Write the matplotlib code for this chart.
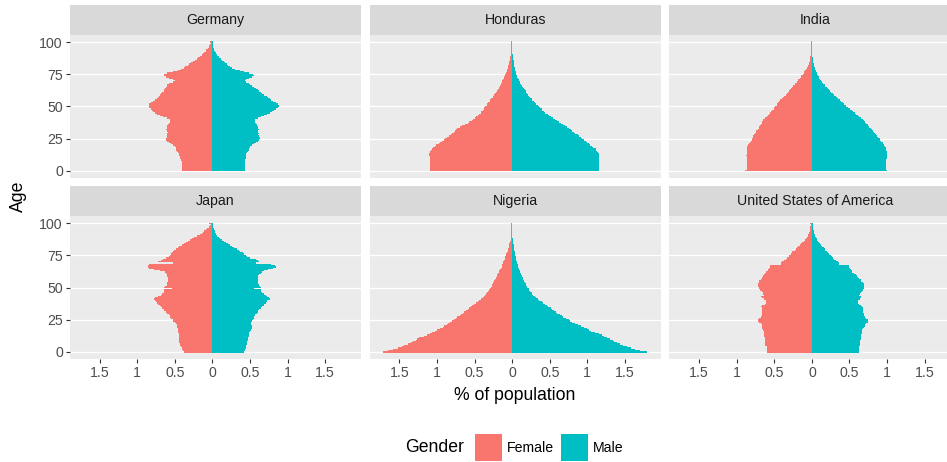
import numpy as np
import matplotlib
matplotlib.use("Agg")
import matplotlib.pyplot as plt
from matplotlib.patches import Rectangle

plt.rcParams["font.family"] = ["Liberation Sans", "DejaVu Sans"]

# ---- data: share of total population (%) by single year of age, 0..100+ ----
ages = np.arange(0, 101)
countries = ["Germany", "Honduras", "India", "Japan", "Nigeria",
             "United States of America"]

germany_female = [
    0.40, 0.40, 0.40, 0.40, 0.40, 0.40, 0.41, 0.41, 0.42, 0.42,
    0.43, 0.43, 0.44, 0.45, 0.46, 0.47, 0.48, 0.48, 0.49, 0.50,
    0.52, 0.55, 0.58, 0.60, 0.62, 0.62, 0.61, 0.60, 0.60, 0.61,
    0.59, 0.61, 0.62, 0.61, 0.60, 0.60, 0.59, 0.58, 0.57, 0.56,
    0.56, 0.60, 0.66, 0.70, 0.74, 0.77, 0.79, 0.81, 0.82, 0.84,
    0.85, 0.85, 0.84, 0.82, 0.79, 0.77, 0.74, 0.72, 0.71, 0.70,
    0.68, 0.67, 0.65, 0.64, 0.63, 0.62, 0.61, 0.60, 0.58, 0.52,
    0.50, 0.52, 0.58, 0.62, 0.64, 0.65, 0.60, 0.52, 0.46, 0.42,
    0.38, 0.36, 0.33, 0.31, 0.29, 0.26, 0.23, 0.21, 0.19, 0.16,
    0.14, 0.12, 0.11, 0.09, 0.08, 0.06, 0.05, 0.04, 0.03, 0.02,
    0.03]
germany_male = [
    0.43, 0.43, 0.43, 0.43, 0.43, 0.43, 0.43, 0.43, 0.43, 0.43,
    0.44, 0.44, 0.45, 0.45, 0.46, 0.47, 0.48, 0.49, 0.50, 0.50,
    0.52, 0.55, 0.58, 0.60, 0.62, 0.63, 0.63, 0.62, 0.61, 0.62,
    0.60, 0.61, 0.62, 0.61, 0.60, 0.59, 0.59, 0.58, 0.57, 0.56,
    0.57, 0.60, 0.64, 0.68, 0.72, 0.76, 0.79, 0.82, 0.85, 0.87,
    0.89, 0.89, 0.87, 0.84, 0.81, 0.78, 0.76, 0.74, 0.72, 0.69,
    0.66, 0.64, 0.62, 0.60, 0.58, 0.55, 0.52, 0.50, 0.48, 0.45,
    0.43, 0.44, 0.48, 0.52, 0.55, 0.54, 0.48, 0.42, 0.36, 0.30,
    0.26, 0.23, 0.21, 0.19, 0.17, 0.15, 0.13, 0.11, 0.09, 0.08,
    0.06, 0.05, 0.04, 0.03, 0.02, 0.02, 0.01, 0.01, 0.01, 0.005,
    0.005]

honduras_female = [
    1.10, 1.10, 1.10, 1.10, 1.10, 1.10, 1.10, 1.10, 1.10, 1.10,
    1.10, 1.10, 1.11, 1.11, 1.10, 1.09, 1.08, 1.07, 1.05, 1.03,
    1.01, 0.98, 0.96, 0.93, 0.91, 0.89, 0.87, 0.84, 0.82, 0.80,
    0.78, 0.76, 0.75, 0.74, 0.70, 0.67, 0.63, 0.59, 0.57, 0.54,
    0.52, 0.50, 0.48, 0.46, 0.44, 0.42, 0.41, 0.39, 0.38, 0.37,
    0.36, 0.34, 0.33, 0.32, 0.30, 0.29, 0.28, 0.26, 0.25, 0.24,
    0.23, 0.21, 0.20, 0.19, 0.18, 0.17, 0.16, 0.155, 0.15, 0.14,
    0.13, 0.12, 0.11, 0.105, 0.10, 0.09, 0.08, 0.075, 0.07, 0.065,
    0.06, 0.055, 0.05, 0.045, 0.04, 0.037, 0.034, 0.030, 0.027, 0.025,
    0.020, 0.015, 0.014, 0.014, 0.014, 0.014, 0.014, 0.014, 0.014, 0.014,
    0.014]
honduras_male = [
    1.16, 1.16, 1.16, 1.16, 1.16, 1.16, 1.16, 1.16, 1.16, 1.16,
    1.16, 1.16, 1.16, 1.15, 1.14, 1.13, 1.12, 1.11, 1.08, 1.06,
    1.04, 1.02, 1.00, 0.98, 0.96, 0.93, 0.91, 0.89, 0.87, 0.84,
    0.82, 0.80, 0.78, 0.75, 0.73, 0.70, 0.68, 0.65, 0.62, 0.60,
    0.57, 0.54, 0.51, 0.49, 0.47, 0.44, 0.42, 0.40, 0.39, 0.37,
    0.36, 0.34, 0.32, 0.30, 0.29, 0.27, 0.26, 0.24, 0.22, 0.21,
    0.20, 0.19, 0.18, 0.17, 0.16, 0.145, 0.13, 0.12, 0.11, 0.10,
    0.093, 0.085, 0.076, 0.070, 0.062, 0.055, 0.049, 0.045, 0.040, 0.035,
    0.031, 0.029, 0.027, 0.024, 0.022, 0.020, 0.018, 0.016, 0.014, 0.014,
    0.013, 0.003, 0.002, 0.002, 0.002, 0.001, 0.001, 0.001, 0.001, 0.001,
    0.001]

india_female = [
    0.89, 0.87, 0.87, 0.87, 0.87, 0.87, 0.87, 0.87, 0.87, 0.87,
    0.87, 0.87, 0.88, 0.87, 0.87, 0.87, 0.87, 0.87, 0.86, 0.86,
    0.85, 0.84, 0.82, 0.81, 0.80, 0.80, 0.79, 0.78, 0.77, 0.76,
    0.75, 0.74, 0.72, 0.71, 0.70, 0.69, 0.68, 0.67, 0.66, 0.65,
    0.65, 0.62, 0.60, 0.58, 0.57, 0.56, 0.54, 0.53, 0.51, 0.50,
    0.49, 0.47, 0.46, 0.45, 0.44, 0.42, 0.40, 0.39, 0.37, 0.35,
    0.33, 0.32, 0.30, 0.29, 0.28, 0.26, 0.25, 0.23, 0.22, 0.20,
    0.19, 0.18, 0.16, 0.15, 0.14, 0.12, 0.11, 0.10, 0.09, 0.08,
    0.067, 0.058, 0.049, 0.042, 0.036, 0.031, 0.027, 0.026, 0.024, 0.020,
    0.016, 0.014, 0.014, 0.014, 0.014, 0.014, 0.014, 0.014, 0.014, 0.014,
    0.014]
india_male = [
    1.00, 0.99, 0.99, 0.99, 0.99, 0.99, 0.99, 0.99, 0.99, 0.99,
    1.00, 1.00, 1.00, 1.00, 1.00, 0.995, 0.99, 0.99, 0.985, 0.97,
    0.96, 0.95, 0.94, 0.92, 0.91, 0.90, 0.88, 0.87, 0.85, 0.84,
    0.83, 0.81, 0.80, 0.78, 0.76, 0.75, 0.74, 0.72, 0.70, 0.69,
    0.68, 0.65, 0.63, 0.61, 0.59, 0.57, 0.55, 0.53, 0.51, 0.48,
    0.46, 0.45, 0.43, 0.41, 0.39, 0.37, 0.35, 0.34, 0.32, 0.30,
    0.28, 0.26, 0.24, 0.23, 0.21, 0.20, 0.18, 0.17, 0.15, 0.14,
    0.12, 0.11, 0.10, 0.09, 0.076, 0.070, 0.062, 0.055, 0.049, 0.042,
    0.036, 0.031, 0.027, 0.024, 0.020, 0.017, 0.015, 0.014, 0.013, 0.006,
    0.005, 0.004, 0.004, 0.003, 0.003, 0.002, 0.002, 0.002, 0.001, 0.001,
    0.001]

japan_female = [
    0.38, 0.39, 0.40, 0.40, 0.42, 0.43, 0.43, 0.44, 0.44, 0.44,
    0.44, 0.44, 0.44, 0.45, 0.45, 0.46, 0.46, 0.46, 0.46, 0.47,
    0.47, 0.47, 0.48, 0.50, 0.52, 0.53, 0.55, 0.56, 0.57, 0.58,
    0.60, 0.62, 0.64, 0.65, 0.67, 0.68, 0.70, 0.72, 0.74, 0.75,
    0.77, 0.78, 0.77, 0.72, 0.69, 0.67, 0.65, 0.64, 0.64, 0.54,
    0.65, 0.63, 0.61, 0.60, 0.60, 0.59, 0.59, 0.59, 0.59, 0.60,
    0.60, 0.62, 0.63, 0.70, 0.78, 0.84, 0.86, 0.86, 0.84, 0.52,
    0.72, 0.68, 0.66, 0.62, 0.58, 0.57, 0.55, 0.54, 0.53, 0.51,
    0.48, 0.46, 0.44, 0.41, 0.38, 0.35, 0.32, 0.30, 0.27, 0.24,
    0.20, 0.17, 0.14, 0.12, 0.11, 0.09, 0.07, 0.05, 0.036, 0.025,
    0.05]
japan_male = [
    0.42, 0.43, 0.43, 0.44, 0.45, 0.45, 0.46, 0.46, 0.46, 0.47,
    0.47, 0.47, 0.48, 0.48, 0.48, 0.49, 0.50, 0.51, 0.52, 0.52,
    0.52, 0.51, 0.51, 0.51, 0.52, 0.54, 0.55, 0.55, 0.56, 0.57,
    0.59, 0.60, 0.61, 0.62, 0.64, 0.66, 0.68, 0.69, 0.71, 0.72,
    0.73, 0.76, 0.75, 0.72, 0.71, 0.68, 0.66, 0.65, 0.64, 0.55,
    0.64, 0.63, 0.62, 0.61, 0.60, 0.60, 0.60, 0.60, 0.60, 0.61,
    0.62, 0.64, 0.66, 0.68, 0.74, 0.80, 0.84, 0.83, 0.78, 0.58,
    0.62, 0.60, 0.58, 0.50, 0.46, 0.45, 0.42, 0.40, 0.37, 0.35,
    0.32, 0.29, 0.26, 0.23, 0.20, 0.18, 0.15, 0.12, 0.10, 0.08,
    0.06, 0.05, 0.04, 0.03, 0.027, 0.022, 0.018, 0.013, 0.009, 0.007,
    0.009]

nigeria_female = [
    1.72, 1.65, 1.58, 1.52, 1.47, 1.44, 1.38, 1.35, 1.32, 1.28,
    1.27, 1.24, 1.18, 1.14, 1.10, 1.07, 1.03, 1.00, 0.96, 0.92,
    0.91, 0.87, 0.85, 0.83, 0.80, 0.77, 0.75, 0.73, 0.70, 0.68,
    0.66, 0.64, 0.61, 0.59, 0.57, 0.55, 0.53, 0.51, 0.48, 0.46,
    0.44, 0.41, 0.39, 0.37, 0.36, 0.35, 0.33, 0.32, 0.31, 0.29,
    0.28, 0.275, 0.27, 0.26, 0.25, 0.24, 0.23, 0.22, 0.21, 0.205,
    0.20, 0.19, 0.18, 0.17, 0.16, 0.15, 0.14, 0.135, 0.13, 0.125,
    0.12, 0.11, 0.10, 0.095, 0.09, 0.083, 0.076, 0.069, 0.062, 0.057,
    0.053, 0.049, 0.044, 0.040, 0.036, 0.031, 0.027, 0.022, 0.018, 0.015,
    0.014, 0.014, 0.014, 0.014, 0.014, 0.014, 0.014, 0.014, 0.014, 0.014,
    0.014]
nigeria_male = [
    1.80, 1.70, 1.64, 1.58, 1.53, 1.48, 1.44, 1.40, 1.36, 1.34,
    1.30, 1.26, 1.22, 1.20, 1.15, 1.10, 1.05, 1.02, 0.99, 0.95,
    0.91, 0.87, 0.84, 0.80, 0.77, 0.75, 0.72, 0.68, 0.66, 0.63,
    0.60, 0.58, 0.55, 0.53, 0.51, 0.48, 0.46, 0.44, 0.41, 0.39,
    0.36, 0.34, 0.32, 0.30, 0.28, 0.27, 0.26, 0.24, 0.23, 0.22,
    0.20, 0.195, 0.19, 0.18, 0.17, 0.16, 0.15, 0.145, 0.14, 0.13,
    0.12, 0.115, 0.11, 0.10, 0.093, 0.087, 0.08, 0.075, 0.071, 0.066,
    0.062, 0.057, 0.053, 0.049, 0.044, 0.040, 0.036, 0.033, 0.031, 0.027,
    0.024, 0.022, 0.020, 0.018, 0.016, 0.015, 0.014, 0.014, 0.013, 0.004,
    0.004, 0.003, 0.003, 0.002, 0.002, 0.002, 0.001, 0.001, 0.001, 0.001,
    0.001]

usa_female = [
    0.60, 0.60, 0.60, 0.60, 0.60, 0.62, 0.62, 0.62, 0.62, 0.62,
    0.63, 0.63, 0.64, 0.64, 0.64, 0.64, 0.64, 0.65, 0.66, 0.66,
    0.67, 0.67, 0.68, 0.70, 0.72, 0.72, 0.70, 0.68, 0.67, 0.67,
    0.67, 0.66, 0.66, 0.67, 0.67, 0.68, 0.66, 0.63, 0.61, 0.61,
    0.61, 0.64, 0.66, 0.68, 0.64, 0.65, 0.65, 0.67, 0.69, 0.70,
    0.71, 0.72, 0.72, 0.72, 0.71, 0.70, 0.68, 0.67, 0.67, 0.65,
    0.64, 0.62, 0.61, 0.59, 0.58, 0.57, 0.56, 0.56, 0.41, 0.41,
    0.40, 0.37, 0.35, 0.33, 0.31, 0.30, 0.28, 0.27, 0.26, 0.23,
    0.21, 0.20, 0.18, 0.16, 0.15, 0.13, 0.11, 0.095, 0.08, 0.07,
    0.058, 0.05, 0.04, 0.035, 0.031, 0.027, 0.022, 0.02, 0.018, 0.015,
    0.027]
usa_male = [
    0.63, 0.63, 0.63, 0.63, 0.63, 0.64, 0.64, 0.64, 0.64, 0.64,
    0.65, 0.65, 0.65, 0.66, 0.67, 0.67, 0.67, 0.67, 0.68, 0.69,
    0.70, 0.71, 0.72, 0.74, 0.75, 0.74, 0.72, 0.70, 0.69, 0.69,
    0.69, 0.68, 0.68, 0.68, 0.68, 0.67, 0.65, 0.63, 0.61, 0.61,
    0.62, 0.64, 0.65, 0.66, 0.63, 0.64, 0.65, 0.67, 0.68, 0.69,
    0.69, 0.69, 0.69, 0.69, 0.68, 0.66, 0.65, 0.63, 0.62, 0.60,
    0.59, 0.56, 0.53, 0.53, 0.52, 0.51, 0.50, 0.50, 0.36, 0.36,
    0.35, 0.32, 0.30, 0.28, 0.27, 0.25, 0.23, 0.22, 0.20, 0.18,
    0.17, 0.155, 0.14, 0.125, 0.11, 0.095, 0.084, 0.073, 0.062, 0.053,
    0.044, 0.037, 0.031, 0.026, 0.022, 0.018, 0.015, 0.013, 0.011, 0.009,
    0.011]

female = [germany_female, honduras_female, india_female,
          japan_female, nigeria_female, usa_female]
male = [germany_male, honduras_male, india_male,
        japan_male, nigeria_male, usa_male]

x_ticks = [-1.5, -1, -0.5, 0, 0.5, 1, 1.5]
x_tick_labels = ["1.5", "1", "0.5", "0", "0.5", "1", "1.5"]
y_ticks = [0, 25, 50, 75, 100]

# ---- styling ----
FEMALE_COL = "#F8766D"
MALE_COL = "#00BFC4"
PANEL_BG = "#EBEBEB"
STRIP_BG = "#D9D9D9"
TICK_COL = "#4D4D4D"
TEXT_COL = "#1A1A1A"

W, H = 947, 462
fig = plt.figure(figsize=(W / 100, H / 100), dpi=100)
fig.patch.set_facecolor("white")


def fx(px):
    return px / W


def fy(py):
    return 1 - py / H


# shared scales, expanded 5% on each side
xmax_f = max(max(f) for f in female)
xmax_m = max(max(m) for m in male)
span = xmax_m + xmax_f
xlim = (-xmax_f - 0.05 * span, xmax_m + 0.05 * span)
ylim = (-0.5 - 0.05 * 101, 100.5 + 0.05 * 101)

# one-year bins, each age bar spans [age - 0.5, age + 0.5]
edges = np.append(ages - 0.5, ages[-1] + 0.5)

col_left = [70, 369.7, 669.4]
panel_w = 291
row_top = [35, 216]
panel_h = 143
strip_h = 30

for i, name in enumerate(countries):
    r, c = divmod(i, 3)
    left = col_left[c]
    top = row_top[r]
    ax = fig.add_axes([fx(left), fy(top + panel_h), fx(panel_w), panel_h / H])
    ax.set_facecolor(PANEL_BG)
    for s in ax.spines.values():
        s.set_visible(False)
    ax.set_xlim(*xlim)
    ax.set_ylim(*ylim)
    ax.set_yticks(y_ticks)
    ax.grid(axis="y", color="white", linewidth=1.0)
    ax.set_axisbelow(True)

    # pyramid halves: females to the left, males to the right
    ax.stairs(-np.asarray(female[i]), edges, orientation="horizontal",
              baseline=0, fill=True, color=FEMALE_COL, linewidth=0)
    ax.stairs(np.asarray(male[i]), edges, orientation="horizontal",
              baseline=0, fill=True, color=MALE_COL, linewidth=0)

    ax.set_xticks(x_ticks)
    ax.tick_params(colors="#333333", length=3.2, width=0.8,
                   labelcolor=TICK_COL, labelsize=10.2, pad=2)
    if r == 1:
        ax.set_xticklabels(x_tick_labels)
    else:
        ax.tick_params(axis="x", length=0, labelbottom=False)
    if c == 0:
        ax.set_yticklabels([str(v) for v in y_ticks])
    else:
        ax.tick_params(axis="y", length=0, labelleft=False)

    sax = fig.add_axes([fx(left), fy(top), fx(panel_w), strip_h / H])
    sax.set_facecolor(STRIP_BG)
    sax.set_xticks([])
    sax.set_yticks([])
    for s in sax.spines.values():
        s.set_visible(False)
    sax.text(0.5, 0.5, name, ha="center", va="center", fontsize=10.2,
             color=TEXT_COL, transform=sax.transAxes)

# axis titles
fig.text(fx(515), fy(395), "% of population", ha="center", va="center",
         fontsize=12.7, color="black")
fig.text(fx(18), fy(196), "Age", ha="center", va="center", rotation=90,
         fontsize=12.7, color="black")

# legend along the bottom
fig.text(fx(405), fy(448), "Gender", ha="left", va="center",
         fontsize=12.7, color="black")
for x0, col, lab in [(475, FEMALE_COL, "Female"), (561, MALE_COL, "Male")]:
    fig.patches.append(Rectangle((fx(x0), fy(461)), fx(27), 27 / H,
                                 transform=fig.transFigure, facecolor=col,
                                 edgecolor="none"))
    fig.text(fx(x0 + 32), fy(448), lab, ha="left", va="center",
             fontsize=10.2, color="black")

fig.savefig("out.png", dpi=100)
